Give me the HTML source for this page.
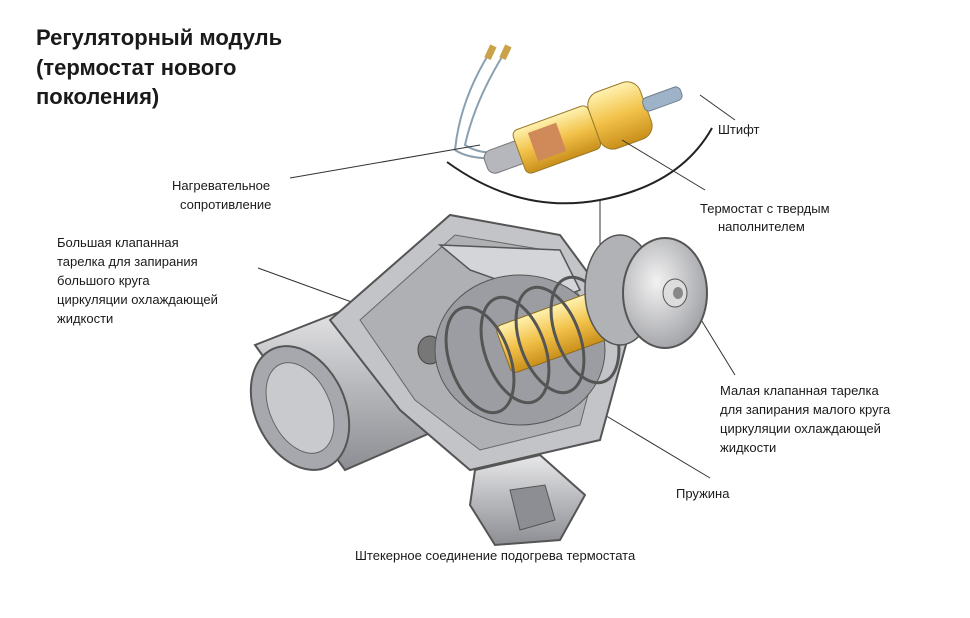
<!DOCTYPE html>
<html><head><meta charset="utf-8"><style>
html,body{margin:0;padding:0;background:#fff;}
svg{display:block}
text{font-family:"Liberation Sans","DejaVu Sans",sans-serif;fill:#1a1a1a}
</style></head><body>
<svg width="970" height="618" viewBox="0 0 970 618" xmlns="http://www.w3.org/2000/svg">
<defs>
<linearGradient id="g1" x1="0" y1="0" x2="0" y2="1"><stop offset="0" stop-color="#e8e8ea"/><stop offset="0.5" stop-color="#b8b9bd"/><stop offset="1" stop-color="#8d8e93"/></linearGradient>
<linearGradient id="gy" x1="0" y1="0" x2="0" y2="1"><stop offset="0" stop-color="#fff2b0"/><stop offset="0.5" stop-color="#f2c24a"/><stop offset="1" stop-color="#c98f1a"/></linearGradient>
<radialGradient id="gc" cx="0.4" cy="0.4" r="0.7"><stop offset="0" stop-color="#f2f2f2"/><stop offset="1" stop-color="#9a9ba0"/></radialGradient>
</defs>
<text x="36" y="45" font-size="22" font-weight="bold">Регуляторный модуль</text>
<text x="36" y="75" font-size="22" font-weight="bold">(термостат нового</text>
<text x="36" y="104" font-size="22" font-weight="bold">поколения)</text>

<!-- inset arc -->
<path d="M447,162 Q520,215 600,200 Q680,185 712,128" fill="none" stroke="#222" stroke-width="2"/>
<!-- wires -->
<path d="M490,52 Q460,100 455,150 Q470,160 500,158" fill="none" stroke="#8aa0b0" stroke-width="2"/>
<path d="M505,52 Q475,100 465,145 Q480,155 505,152" fill="none" stroke="#8aa0b0" stroke-width="2"/>
<rect x="487" y="45" width="7" height="14" fill="#c9a24a" transform="rotate(25 490 52)"/>
<rect x="502" y="45" width="7" height="14" fill="#c9a24a" transform="rotate(25 505 52)"/>
<!-- inset thermostat -->
<g transform="rotate(-20 580 130)">
<rect x="480" y="118" width="50" height="24" rx="8" fill="#b5b7bc" stroke="#777"/>
<rect x="515" y="108" width="80" height="46" rx="6" fill="url(#gy)" stroke="#9a7a2a"/>
<rect x="595" y="100" width="55" height="60" rx="14" fill="url(#gy)" stroke="#9a7a2a"/>
<rect x="648" y="122" width="40" height="14" rx="5" fill="#9fb3c8" stroke="#6f8090"/>
<rect x="530" y="115" width="30" height="30" fill="#d08a5a"/>
</g>
<!-- leader lines -->
<g stroke="#333" stroke-width="1" fill="none">
<line x1="290" y1="178" x2="480" y2="145"/>
<line x1="700" y1="95" x2="735" y2="120"/>
<line x1="622" y1="140" x2="705" y2="190"/>
<line x1="258" y1="268" x2="470" y2="345"/>
<line x1="700" y1="318" x2="735" y2="375"/>
<line x1="588" y1="405" x2="710" y2="478"/>
<line x1="600" y1="200" x2="600" y2="250"/>
</g>

<!-- main body -->
<!-- pipe -->
<path d="M255,345 L370,300 L460,420 L345,470 Z" fill="url(#g1)" stroke="#555" stroke-width="2"/>
<ellipse cx="300" cy="408" rx="45" ry="65" transform="rotate(-25 300 408)" fill="#a7a8ad" stroke="#555" stroke-width="2"/>
<ellipse cx="300" cy="408" rx="30" ry="48" transform="rotate(-25 300 408)" fill="#c9cacd" stroke="#666"/>
<!-- flange -->
<path d="M330,320 L450,215 L560,235 L630,330 L600,440 L470,470 L400,410 Z" fill="#c3c4c8" stroke="#555" stroke-width="2"/>
<path d="M360,320 L455,235 L545,250 L605,330 L580,425 L480,450 L415,400 Z" fill="#aeb0b4" stroke="#666"/>
<ellipse cx="430" cy="350" rx="12" ry="14" fill="#777" stroke="#444"/>
<!-- bracket -->
<path d="M440,245 L560,250 L580,290 L555,300 L470,270 Z" fill="#d4d5d8" stroke="#555" stroke-width="1.5"/>
<!-- inner area -->
<ellipse cx="520" cy="350" rx="85" ry="75" fill="#9c9da2" stroke="#555"/>
<!-- yellow core -->
<g transform="rotate(-20 560 330)">
<rect x="500" y="305" width="110" height="50" rx="6" fill="url(#gy)" stroke="#8a6a1a"/>
</g>
<!-- springs -->
<g fill="none" stroke="#555" stroke-width="3">
<ellipse cx="480" cy="360" rx="30" ry="55" transform="rotate(-20 480 360)"/>
<ellipse cx="515" cy="350" rx="30" ry="55" transform="rotate(-20 515 350)"/>
<ellipse cx="550" cy="340" rx="30" ry="55" transform="rotate(-20 550 340)"/>
<ellipse cx="585" cy="330" rx="30" ry="55" transform="rotate(-20 585 330)"/>
</g>
<!-- cap -->
<ellipse cx="620" cy="290" rx="35" ry="55" fill="#b1b2b6" stroke="#555" stroke-width="1.5"/>
<ellipse cx="665" cy="293" rx="42" ry="55" fill="url(#gc)" stroke="#555" stroke-width="2"/>
<ellipse cx="675" cy="293" rx="12" ry="14" fill="#ddd" stroke="#555"/>
<ellipse cx="678" cy="293" rx="5" ry="6" fill="#888"/>
<!-- connector -->
<path d="M475,470 L540,455 L585,495 L560,540 L495,545 L470,505 Z" fill="url(#g1)" stroke="#555" stroke-width="2"/>
<path d="M510,490 L545,485 L555,520 L520,530 Z" fill="#8d8e93" stroke="#555"/>

<g font-size="13">
<text x="718" y="134">Штифт</text>
<text x="172" y="190">Нагревательное</text>
<text x="180" y="209">сопротивление</text>
<text x="700" y="213">Термостат с твердым</text>
<text x="718" y="231">наполнителем</text>
<text x="57" y="247">Большая клапанная</text>
<text x="57" y="266">тарелка для запирания</text>
<text x="57" y="285">большого круга</text>
<text x="57" y="304">циркуляции охлаждающей</text>
<text x="57" y="323">жидкости</text>
<text x="720" y="395">Малая клапанная тарелка</text>
<text x="720" y="414">для запирания малого круга</text>
<text x="720" y="433">циркуляции охлаждающей</text>
<text x="720" y="452">жидкости</text>
<text x="676" y="498">Пружина</text>
<text x="355" y="560">Штекерное соединение подогрева термостата</text>
</g>
</svg>
</body></html>
